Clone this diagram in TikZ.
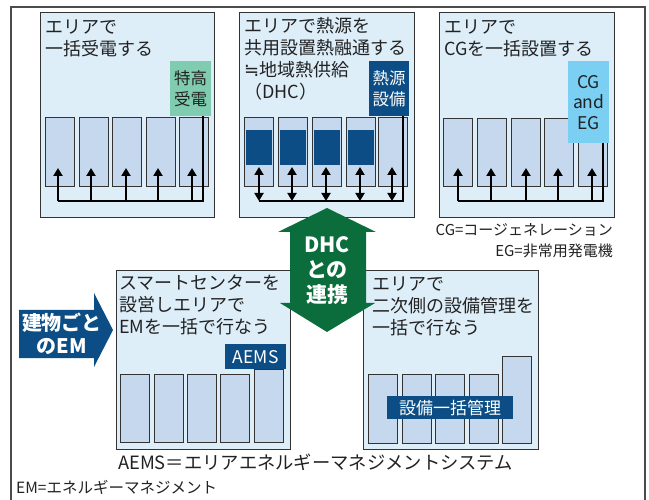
\documentclass[tikz,border=0pt]{standalone}
\usepackage{fontspec}
\setmainfont{Noto Sans CJK JP}
\newfontfamily\symfam{DejaVu Sans}
\usetikzlibrary{arrows.meta}
\definecolor{areabg}{HTML}{DDEEF9}
\definecolor{barfill}{HTML}{C5D8EE}
\definecolor{dkblue}{HTML}{0B4D84}
\definecolor{dhcgreen}{HTML}{0B6D3B}
\definecolor{tealbox}{HTML}{7FCCB1}
\definecolor{cgblue}{HTML}{7BCFF2}
\definecolor{edgecol}{HTML}{333333}
\definecolor{textcol}{HTML}{222222}
\tikzset{
  area/.style={draw=edgecol, line width=1.2pt, fill=areabg, inner sep=0pt, anchor=north west},
  barbox/.style={draw=edgecol, line width=1.3pt, fill=barfill, inner sep=0pt, anchor=north west, minimum width=29pt},
  innerblk/.style={fill=dkblue, inner sep=0pt, anchor=north west, minimum width=26pt, minimum height=35pt},
  txt/.style={inner sep=0pt, anchor=north west, align=left, text=textcol, font=\fontsize{18}{22}\selectfont},
  lbl/.style={inner sep=0pt, align=center, font=\fontsize{16.5}{20.5}\selectfont},
  captxt/.style={inner sep=0pt, text=textcol, font=\fontsize{15}{18}\selectfont},
  wire/.style={line width=2.2pt, black},
  uparr/.style={wire, -{Triangle[length=8pt,width=9pt]}},
  twoarr/.style={wire, {Triangle[length=8pt,width=9pt]}-{Triangle[length=8pt,width=9pt]}},
  framestyle/.style={draw=black!70, line width=1.2pt},
}
\begin{document}
\begin{tikzpicture}[x=1pt,y=-1pt]
\useasboundingbox (0,0) rectangle (649,500);
\fill[white] (0,0) rectangle (649,500);
\draw[framestyle] (11,500) -- (11,7) -- (645,7) -- (645,500);

% ---------- Box 1 ----------
\node[area, minimum width=174pt, minimum height=205pt] (box1) at (40,12) {};
\node[txt] (t1) at (45,20) {エリアで\\一括受電する};
\foreach \x [count=\i] in {45,79,112,146,179}
  \node[barbox, minimum height=69pt] (a\i) at (\x,117) {};
\node[fill=tealbox, inner sep=0pt, anchor=north west, minimum width=41pt, minimum height=55pt] (src1) at (170,61) {};
\node[lbl, text=textcol] (src1t) at (src1.center) {特高\\受電};
\coordinate (busA) at (58,201);
\coordinate (busAend) at (203,201);
\coordinate (busAtop) at (203,116);
\draw[wire] (busA) -- (busAend) -- (busAtop);
\foreach \x [count=\i] in {58,91,126,158,192}{
  \coordinate (pa\i) at (\x,201);
  \coordinate (qa\i) at (\x,168);
  \draw[uparr] (pa\i) -- (qa\i);
}

% ---------- Box 2 ----------
\node[area, minimum width=175pt, minimum height=205pt] (box2) at (239,12) {};
\node[txt] (t2) at (244,17) {エリアで熱源を\\共用設置熱融通する\\{\symfam ≒}地域熱供給\\（DHC）};
\foreach \x [count=\i] in {244,278,312,346,378}
  \node[barbox, minimum height=69pt] (b\i) at (\x,117) {};
\foreach \x [count=\i] in {245.5,279.5,313.5,347.5}
  \node[innerblk] (bi\i) at (\x,130) {};
\node[fill=dkblue, inner sep=0pt, anchor=north west, minimum width=40pt, minimum height=55pt] (src2) at (369,61) {};
\node[lbl, text=white] (src2t) at (src2.center) {熱源\\設備};
\coordinate (busB) at (259,201);
\coordinate (busBend) at (403,201);
\coordinate (busBtop) at (403,116);
\draw[wire] (busB) -- (busBend) -- (busBtop);
\foreach \x [count=\i] in {259,292,326,360,392}{
  \coordinate (pb\i) at (\x,201);
  \coordinate (qb\i) at (\x,167);
  \draw[twoarr] (pb\i) -- (qb\i);
}

% ---------- Box 3 ----------
\node[area, minimum width=175pt, minimum height=205pt] (box3) at (439,12) {};
\node[txt] (t3) at (444,20) {エリアで\\CGを一括設置する};
\foreach \x [count=\i] in {443,477,511,544,578}
  \node[barbox, minimum height=68pt] (c\i) at (\x,118) {};
\node[fill=cgblue, inner sep=0pt, anchor=north west, minimum width=41pt, minimum height=82pt] (src3) at (568,61) {};
\node[lbl, text=textcol, font=\fontsize{17.5}{20.5}\selectfont] (src3t) at (src3.center) {CG\\and\\EG};
\coordinate (busC) at (458,201);
\coordinate (busCend) at (603,201);
\coordinate (busCtop) at (603,143);
\draw[wire] (busC) -- (busCend) -- (busCtop);
\foreach \x [count=\i] in {458,491,526,558,592}{
  \coordinate (pc\i) at (\x,201);
  \coordinate (qc\i) at (\x,168);
  \draw[uparr] (pc\i) -- (qc\i);
}
\node[captxt, anchor=east] (capcg) at (613,230) {CG=コージェネレーション};
\node[captxt, anchor=east] (capeg) at (613,251) {EG=非常用発電機};

% ---------- Box 4 ----------
\node[area, minimum width=174pt, minimum height=179pt] (box4) at (116,270) {};
\node[txt] (t4) at (119,275) {スマートセンターを\\設営しエリアで\\EMを一括で行なう};
\foreach \x [count=\i] in {120,154,187,220}
  \node[barbox, minimum height=68pt] (d\i) at (\x,374) {};
\node[barbox, minimum height=73pt] (d5) at (254,369) {};
\node[fill=dkblue, inner sep=0pt, anchor=north west, minimum width=61pt, minimum height=25pt] (aems) at (225,344) {};
\node[inner sep=0pt, text=white, font=\fontsize{17.5}{20}\selectfont] (aemst) at (aems.center) {AEMS};

% ---------- Box 5 ----------
\node[area, minimum width=175pt, minimum height=179pt] (box5) at (363,270) {};
\node[txt] (t5) at (372,277) {エリアで\\二次側の設備管理を\\一括で行なう};
\foreach \x [count=\i] in {368,402,435,469}
  \node[barbox, minimum height=69pt] (e\i) at (\x,374) {};
\node[barbox, minimum height=87pt] (e5) at (502,356) {};
\node[fill=dkblue, inner sep=0pt, anchor=north west, minimum width=126pt, minimum height=23pt] (mgmt) at (387,396) {};
\node[inner sep=0pt, text=white, font=\fontsize{17}{20}\selectfont] (mgmtt) at (mgmt.center) {設備一括管理};

\node[inner sep=0pt, anchor=west, text=textcol, font=\fontsize{18.3}{22}\selectfont] (capaems) at (118,462) {AEMS＝エリアエネルギーマネジメントシステム};
\node[captxt, anchor=west, font=\fontsize{15.5}{18}\selectfont] (capem) at (16,487) {EM=エネルギーマネジメント};

% ---------- DHC double arrow ----------
\fill[dhcgreen] (327,208) -- (376,232) -- (366,232) -- (366,303) -- (375,303) -- (327,332)
  -- (280,303) -- (290,303) -- (290,232) -- (278,232) -- cycle;
\node[inner sep=0pt, align=center, text=white, font=\fontsize{21}{25}\bfseries\selectfont] (dhct) at (327,271) {DHC\\との\\連携};

% ---------- EM arrow ----------
\fill[dkblue] (19,310) -- (94,310) -- (94,293) -- (113,330) -- (94,367) -- (94,358) -- (19,358) -- cycle;
\node[inner sep=0pt, align=center, text=white, font=\fontsize{20}{23}\bfseries\selectfont] (emt) at (62,334) {建物ごと\\のEM};
\end{tikzpicture}
\end{document}
